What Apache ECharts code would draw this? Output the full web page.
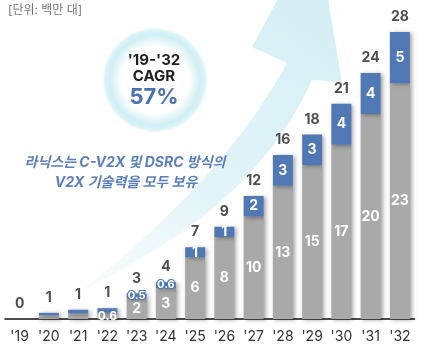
<!DOCTYPE html>
<html><head><meta charset="utf-8">
<script src="https://cdn.jsdelivr.net/npm/echarts@6/dist/echarts.min.js"></script>
<style>html,body{margin:0;padding:0;background:#fff}#c{width:432px;height:348px}</style>
</head><body><div id="c"></div>
<script>
const categories = ["'19","'20","'21","'22","'23","'24","'25","'26","'27","'28","'29","'30","'31","'32"];
const grayValues = [0, 0.35, 0.55, 0.6, 2, 3, 6, 8, 10, 13, 15, 17, 20, 23];
const blueValues = [0, 0.25, 0.35, 0.45, 0.5, 0.6, 1, 1, 2, 3, 3, 4, 4, 5];
const totalLabels = ['0','1','1','1','3','4','7','9','12','16','18','21','24','28'];
const unitText = '[단위: 백만 대]';
const cagrLines = ["'19-'32", 'CAGR', '57%'];
const noteLines = ['라닉스는 C-V2X 및 DSRC 방식의', 'V2X 기술력을 모두 보유'];

const FONT = 'Inter, "Noto Sans CJK KR", sans-serif';
const GRAY = '#a9a9a9', BLUE = '#4f78b4';
const shadow = {shadowColor:'rgba(0,0,0,0.35)', shadowBlur:4, shadowOffsetX:2, shadowOffsetY:1};

// decorative arrow outline (cubic bezier sampled)
function bez(p0, p1, p2, p3, n) {
  const out = [];
  for (let i = 0; i <= n; i++) {
    const t = i / n, u = 1 - t;
    out.push([u*u*u*p0[0] + 3*u*u*t*p1[0] + 3*u*t*t*p2[0] + t*t*t*p3[0],
              u*u*u*p0[1] + 3*u*u*t*p1[1] + 3*u*t*t*p2[1] + t*t*t*p3[1]]);
  }
  return out;
}
const arrowPts = [].concat(
  bez([77,293],[165,250],[262,190],[312,80], 30),
  [[342,82],[316,-72],[252,47]],
  bez([287,63],[238,155],[148,240],[77,293], 30)
);

const grayData = grayValues.map(v => ({
  value: v,
  label: {show: v >= 0.6, fontSize: v < 1 ? 12 : 14}
}));
const blueData = blueValues.map(v => ({
  value: v,
  label: {show: v >= 0.5, fontSize: v < 1 ? 11 : 14,
          textBorderColor: v < 1 ? BLUE : 'transparent', textBorderWidth: v < 1 ? 2 : 0}
}));
const totals = grayValues.map((g, i) => g + blueValues[i]);

const chart = echarts.init(document.getElementById('c'), null, {renderer:'canvas'});
chart.setOption({
  animation: false,
  textStyle: {fontFamily: FONT},
  grid: {left: 5, right: 17.5, top: 11.5, bottom: 29},
  xAxis: {
    type: 'category', data: categories,
    axisLine: {lineStyle: {color: '#111', width: 1.5}},
    axisTick: {show: false},
    axisLabel: {color: '#333', fontSize: 14, margin: 11, fontFamily: FONT}
  },
  yAxis: {type: 'value', min: 0, max: 30, show: false, splitLine: {show: false}},
  graphic: [
    {type: 'polygon', z: 0, silent: true,
     shape: {points: arrowPts},
     style: {fill: new echarts.graphic.LinearGradient(0, 1, 1, 0, [
       {offset:0, color:'rgba(230,246,249,0.2)'},{offset:0.35, color:'#e2f4f8'},{offset:1, color:'#d0edf4'}])}},
    {type: 'circle', z: 1, silent: true,
     shape: {cx: 155, cy: 80, r: 54},
     style: {fill: new echarts.graphic.RadialGradient(0.5, 0.5, 0.5, [
       {offset:0, color:'#ffffff'},{offset:0.62, color:'#ffffff'},{offset:0.84, color:'#cfeef4'},{offset:0.93, color:'#def4f7'},{offset:1, color:'rgba(255,255,255,0)'}])}},
    {type: 'text', z: 5, left: 8, top: 4,
     style: {text: unitText, fill: '#777', font: '12px ' + FONT}},
    {type: 'text', z: 5, x: 154, y: 60,
     style: {text: cagrLines[0], fill: '#222', font: 'bold 15px ' + FONT, textAlign: 'center', textVerticalAlign: 'middle'}},
    {type: 'text', z: 5, x: 154, y: 76,
     style: {text: cagrLines[1], fill: '#222', font: 'bold 15px ' + FONT, textAlign: 'center', textVerticalAlign: 'middle'}},
    {type: 'text', z: 5, x: 154, y: 97,
     style: {text: cagrLines[2], fill: '#4a72b0', font: 'bold 22px ' + FONT, textAlign: 'center', textVerticalAlign: 'middle'}},
    {type: 'text', z: 5, x: 125, y: 163,
     style: {text: noteLines[0], fill: '#5b80b9', font: 'italic bold 14px ' + FONT, textAlign: 'center', textVerticalAlign: 'middle'}},
    {type: 'text', z: 5, x: 126, y: 183,
     style: {text: noteLines[1], fill: '#5b80b9', font: 'italic bold 14px ' + FONT, textAlign: 'center', textVerticalAlign: 'middle'}}
  ],
  series: [
    {type: 'bar', stack: 't', barWidth: 20, z: 3, data: grayData,
     itemStyle: Object.assign({color: GRAY}, shadow),
     label: {position: 'inside', color: '#fff', fontWeight: 'bold', fontFamily: FONT}},
    {type: 'bar', stack: 't', barWidth: 20, z: 3, data: blueData,
     itemStyle: Object.assign({color: BLUE}, shadow),
     label: {position: 'inside', color: '#fff', fontWeight: 'bold', fontFamily: FONT}},
    {type: 'scatter', z: 4, symbolSize: 0, data: totals,
     label: {show: true, position: 'top', distance: 8, color: '#222', fontSize: 14, fontWeight: 'bold', fontFamily: FONT,
             formatter: p => totalLabels[p.dataIndex]}}
  ]
});
</script></body></html>
